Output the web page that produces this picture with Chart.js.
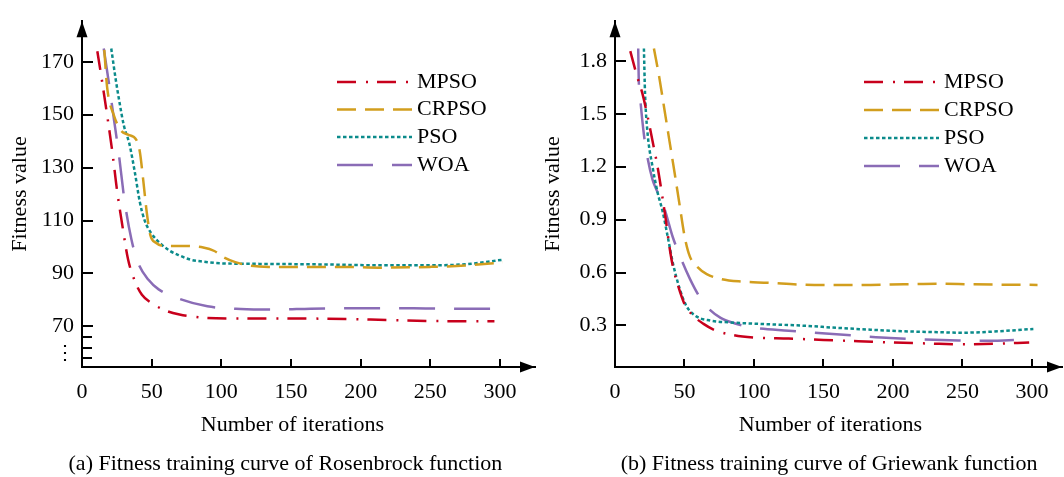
<!DOCTYPE html>
<html>
<head>
<meta charset="utf-8">
<script src="https://cdn.jsdelivr.net/npm/chart.js@4.4.0/dist/chart.umd.min.js"></script>
<style>
	html, body { margin: 0; padding: 0; background: #fff; }
	#wrap { position: relative; width: 1064px; height: 477px; overflow: hidden; }
	#wrap canvas { position: absolute; top: 0; }
</style>
</head>
<body>
<div id="wrap">
	<canvas id="chartA" width="540" height="477" style="left:0"></canvas>
	<canvas id="chartB" width="524" height="477" style="left:540px"></canvas>
</div>
<script>
// (a) Rosenbrock
const rbMpsoX = [11, 14, 18, 22, 25, 29, 33, 38, 43, 50, 60, 70, 80, 90, 110, 150, 190, 220, 260, 296];
const rbMpsoY = [174, 164, 150, 135, 122, 108, 95.5, 87, 82, 78.8, 76, 74.5, 73.7, 73.2, 73, 73, 72.8, 72.4, 72, 72];
const rbCrpsoX = [16, 18, 23, 28, 33, 39, 41.5, 44, 46.5, 49, 53, 60, 72, 87, 95, 102, 110, 120, 134, 164, 189, 213, 250, 275, 302];
const rbCrpsoY = [174.5, 160.5, 149.6, 144, 142.5, 140.5, 136, 125, 113, 104.6, 101.6, 100.4, 100.4, 99.8, 98.5, 96, 94.3, 93, 92.5, 92.5, 92.5, 92.2, 92.5, 93, 94.2];
const rbPsoX = [21, 24, 27, 30, 34, 38, 41.5, 45, 50, 57, 63, 70, 78, 85, 95, 102, 139, 176, 213, 250, 275, 302];
const rbPsoY = [175, 164, 154.4, 146, 139, 128, 117, 110, 105, 101, 98.6, 96.8, 95.2, 94.6, 94, 93.8, 93.6, 93.4, 93.1, 93.1, 93.5, 95.2];
const rbWoaX = [15.6, 19.3, 23, 26.7, 30.4, 35.4, 40.3, 47.7, 55, 70, 90, 114, 139, 164, 201, 238, 263, 293];
const rbWoaY = [175, 162, 148, 134, 118, 103, 94, 87.6, 84, 80.4, 77.6, 76.6, 76.4, 76.7, 76.9, 76.9, 76.7, 76.7];
const rbTicksY = [70, 90, 110, 130, 150, 170];
const rbMinorY = [66, 62, 58];

// (b) Griewank
const grMpsoX = [11, 16, 19.6, 23.3, 27, 30.6, 34.3, 36.7, 39.2, 41.6, 45.3, 50.2, 56.3, 63.7, 72.2, 85.7, 100, 125, 150, 175, 200, 225, 250, 272, 298];
const grMpsoY = [1.855, 1.709, 1.618, 1.49, 1.345, 1.2, 1.018, 0.891, 0.745, 0.636, 0.527, 0.418, 0.355, 0.309, 0.272, 0.245, 0.232, 0.226, 0.218, 0.211, 0.203, 0.198, 0.193, 0.196, 0.204];
const grCrpsoX = [28, 31.8, 35.5, 39.2, 42.9, 46.5, 50.2, 53.9, 58.8, 66, 76, 90.6, 110, 135, 159, 184, 208, 233, 257, 304];
const grCrpsoY = [1.87, 1.709, 1.527, 1.345, 1.164, 0.982, 0.8, 0.69, 0.636, 0.591, 0.564, 0.549, 0.542, 0.531, 0.529, 0.53, 0.533, 0.536, 0.533, 0.53];
const grPsoX = [20.8, 21.6, 23.3, 27, 30.6, 34.3, 38, 41.6, 46.5, 51.4, 58.8, 68.6, 85.7, 110, 135, 159, 184, 208, 233, 250, 269, 301];
const grPsoY = [1.87, 1.618, 1.4, 1.2, 1.055, 0.945, 0.8, 0.655, 0.509, 0.41, 0.35, 0.328, 0.316, 0.307, 0.299, 0.287, 0.276, 0.267, 0.262, 0.259, 0.264, 0.28];
const grWoaX = [16.7, 17.1, 18.4, 20.8, 23.3, 27, 30.6, 35.5, 41.6, 47.8, 53.9, 60, 66, 76, 87, 100, 125, 149, 174, 198, 223, 247, 265, 287];
const grWoaY = [1.87, 1.69, 1.564, 1.382, 1.255, 1.127, 1.055, 0.964, 0.8, 0.673, 0.564, 0.473, 0.407, 0.343, 0.31, 0.287, 0.27, 0.256, 0.242, 0.229, 0.221, 0.215, 0.213, 0.217];
const grTicksY = [0.3, 0.6, 0.9, 1.2, 1.5, 1.8];

const ticksX = [0, 50, 100, 150, 200, 250, 300];
const names = ['MPSO', 'CRPSO', 'PSO', 'WOA'];

const FONT = '"Liberation Serif", "Times New Roman", serif';
Chart.defaults.font.family = FONT;
Chart.defaults.font.size = 22;
Chart.defaults.color = '#000';

const styles = [
	{ color: '#c8001c', dash: [19, 10, 2, 9] },
	{ color: '#d29e1e', dash: [19, 9] },
	{ color: '#0b8b8b', dash: [3.5, 2.5] },
	{ color: '#8a6cb6', dash: [36, 19] },
];

function pts(xs, ys) {
	return xs.map((x, i) => ({ x: x, y: ys[i] }));
}

// arrows, inward ticks, legend, bottom texts
const decor = {
	id: 'decor',
	afterDraw(chart, args, o) {
		const ctx = chart.ctx;
		const a = chart.chartArea;
		const sx = chart.scales.x, sy = chart.scales.y;
		ctx.save();
		ctx.strokeStyle = '#000';
		ctx.fillStyle = '#000';
		ctx.lineWidth = 2;
		ctx.setLineDash([]);
		ctx.beginPath();
		sy.ticks.forEach(t => {
			let py = Math.round(sy.getPixelForValue(t.value));
			ctx.moveTo(a.left, py); ctx.lineTo(a.left + 11, py);
		});
		(o.minor || []).forEach(v => {
			let py = Math.round(sy.getPixelForValue(v));
			ctx.moveTo(a.left, py); ctx.lineTo(a.left + 10, py);
		});
		sx.ticks.forEach(t => {
			if (t.value === 0) return;
			let px = Math.round(sx.getPixelForValue(t.value));
			ctx.moveTo(px, a.bottom); ctx.lineTo(px, a.bottom - 8);
		});
		ctx.stroke();
		// arrow heads
		ctx.beginPath();
		ctx.moveTo(a.left, a.top);
		ctx.lineTo(a.left - 5.5, a.top + 16);
		ctx.lineTo(a.left + 5.5, a.top + 16);
		ctx.closePath();
		ctx.fill();
		ctx.beginPath();
		ctx.moveTo(a.right, a.bottom);
		ctx.lineTo(a.right - 15, a.bottom - 5.5);
		ctx.lineTo(a.right - 15, a.bottom + 5.5);
		ctx.closePath();
		ctx.fill();
		// axis break mark
		if (o.breakAt) {
			ctx.font = '20px "DejaVu Serif"';
			ctx.textAlign = 'center';
			ctx.textBaseline = 'middle';
			ctx.fillText('⋮', a.left - 17, sy.getPixelForValue(o.breakAt));
		}
		// legend
		ctx.lineWidth = 2.5;
		chart.data.datasets.forEach((ds, i) => {
			let ly = o.legendY[i];
			ctx.strokeStyle = ds.borderColor;
			ctx.setLineDash(ds.borderDash);
			ctx.beginPath();
			ctx.moveTo(o.legendX, ly);
			ctx.lineTo(o.legendX + 75, ly);
			ctx.stroke();
			ctx.setLineDash([]);
			ctx.fillStyle = '#000';
			ctx.font = '22px ' + FONT;
			ctx.textAlign = 'left';
			ctx.textBaseline = 'middle';
			ctx.fillText(ds.label, o.legendX + 80, ly);
		});
		// x title and caption
		ctx.fillStyle = '#000';
		ctx.font = '22px ' + FONT;
		ctx.textAlign = 'center';
		ctx.textBaseline = 'middle';
		ctx.fillText('Number of iterations', sx.getPixelForValue(o.titleAt), o.titleY);
		ctx.fillText(o.caption, sx.getPixelForValue(o.captionAt), o.captionY);
		ctx.restore();
	}
};

function makeChart(id, sets, opt) {
	const ctx = document.getElementById(id).getContext('2d');
	return new Chart(ctx, {
		type: 'line',
		data: {
			datasets: sets.map((s, i) => ({
				label: names[i],
				data: s,
				borderColor: styles[i].color,
				borderDash: styles[i].dash,
				borderWidth: 2.5,
				pointRadius: 0,
				fill: false,
				cubicInterpolationMode: 'monotone',
			}))
		},
		options: {
			responsive: false,
			animation: false,
			events: [],
			layout: { padding: { left: 0, top: 9, right: opt.padRight, bottom: 0 } },
			plugins: {
				legend: { display: false },
				tooltip: { enabled: false },
				decor: opt.decor,
			},
			scales: {
				x: {
					type: 'linear',
					min: 0,
					max: opt.xMax,
					afterBuildTicks: sc => { sc.ticks = ticksX.map(v => ({ value: v })); },
					afterFit: sc => { sc.height = 110; },
					ticks: { padding: 12, maxRotation: 0, autoSkip: false },
					grid: { display: false, drawTicks: false },
					border: { display: true, color: '#000', width: 2 },
				},
				y: {
					type: 'linear',
					min: opt.yMin,
					max: opt.yMax,
					afterBuildTicks: sc => { sc.ticks = opt.ticksY.map(v => ({ value: v })); },
					afterFit: sc => { sc.width = opt.yWidth; },
					ticks: { padding: 8, autoSkip: false, callback: opt.fmt },
					grid: { display: false, drawTicks: false },
					border: { display: true, color: '#000', width: 2 },
					title: { display: true, text: 'Fitness value', font: { size: 22 }, padding: { top: opt.titlePad, bottom: 0 } },
				}
			}
		},
		plugins: [decor]
	});
}

makeChart('chartA', [pts(rbMpsoX, rbMpsoY), pts(rbCrpsoX, rbCrpsoY), pts(rbPsoX, rbPsoY), pts(rbWoaX, rbWoaY)], {
	padRight: 5, yWidth: 82, titlePad: 7,
	xMax: 325.1, yMin: 54.67, yMax: 185.33, ticksY: rbTicksY,
	fmt: v => v,
	decor: {
		minor: rbMinorY, breakAt: 59.5,
		legendX: 337, legendY: [82, 109.5, 137, 165],
		titleAt: 151, titleY: 425,
		caption: '(a) Fitness training curve of Rosenbrock function', captionAt: 146, captionY: 464,
	}
});

makeChart('chartB', [pts(grMpsoX, grMpsoY), pts(grCrpsoX, grCrpsoY), pts(grPsoX, grPsoY), pts(grWoaX, grWoaY)], {
	padRight: 2, yWidth: 75, titlePad: 0,
	xMax: 321.6, yMin: 0.0646, yMax: 2.0245, ticksY: grTicksY,
	fmt: v => v.toFixed(1),
	decor: {
		legendX: 324, legendY: [82, 110, 138, 166],
		titleAt: 155, titleY: 425,
		caption: '(b) Fitness training curve of Griewank function', captionAt: 154, captionY: 464,
	}
});
</script>
</body>
</html>
